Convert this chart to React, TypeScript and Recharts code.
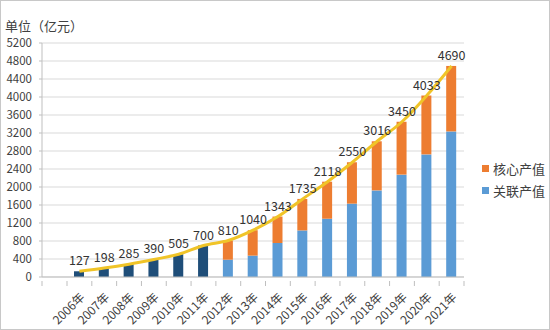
import React from 'react';
import { ComposedChart, Bar, Line, XAxis, YAxis, CartesianGrid, Legend, LabelList } from 'recharts';

const years = ['2006年','2007年','2008年','2009年','2010年','2011年','2012年','2013年','2014年','2015年','2016年','2017年','2018年','2019年','2020年','2021年'];
const totals = [127,198,285,390,505,700,810,1040,1343,1735,2118,2550,3016,3450,4033,4690];
const earlyTotals = [127,198,285,390,505,700,null,null,null,null,null,null,null,null,null,null];
const relatedValues = [null,null,null,null,null,null,385,475,755,1035,1295,1630,1925,2275,2725,3235];
const coreValues = [null,null,null,null,null,null,425,565,588,700,823,920,1091,1175,1308,1455];
const yTicks = [0,400,800,1200,1600,2000,2400,2800,3200,3600,4000,4400,4800,5200];

const data = years.map((y, i) => ({
  year: y,
  total: totals[i],
  early: earlyTotals[i],
  related: relatedValues[i],
  core: coreValues[i],
}));

const FONT = '"Microsoft YaHei", "Noto Sans CJK SC", "Noto Sans", sans-serif';

const XTick = (props: any) => {
  const { x, y, payload, index } = props;
  const off = payload.offset || 12.4;
  const lx = x + 6;
  const ly = y + 13;
  return (
    <g>
      <line x1={x - off} y1={y - 4} x2={x - off} y2={y + 1} stroke="#BFBFBF" />
      {index === 0 && <line x1={x - off - 25} y1={y - 4} x2={x - off - 25} y2={y + 1} stroke="#BFBFBF" />}
      {index === years.length - 1 && <line x1={x + off} y1={y - 4} x2={x + off} y2={y + 1} stroke="#BFBFBF" />}
      <text x={lx} y={ly} textAnchor="end" fontSize={12} fill="#404040" fontFamily={FONT} transform={`rotate(-45, ${lx}, ${ly})`}>
        {payload.value}
      </text>
    </g>
  );
};

const legendItems = [
  { label: '核心产值', color: '#ED7D31' },
  { label: '关联产值', color: '#5B9BD5' },
];

const LegendContent = () => (
  <div style={{ fontFamily: FONT, fontSize: 13, color: '#404040' }}>
    {legendItems.map((it) => (
      <div key={it.label} style={{ display: 'flex', alignItems: 'center', height: 22 }}>
        <span style={{ display: 'inline-block', width: 7, height: 7, background: it.color, marginRight: 4 }} />
        <span>{it.label}</span>
      </div>
    ))}
  </div>
);

export default function App() {
  return (
    <div style={{ position: 'absolute', left: 0, top: 0, width: 550, height: 330, background: '#fff' }}>
      <div style={{ position: 'absolute', left: 0, top: 0, width: 550, height: 330, border: '1px solid #C8C8C8', boxSizing: 'border-box', pointerEvents: 'none' }} />
      <div style={{ position: 'absolute', left: 5, top: 19, fontFamily: FONT, fontSize: 13, lineHeight: '13px', color: '#404040' }}>单位（亿元）</div>
      <ComposedChart width={550} height={330} data={data} margin={{ top: 43, right: 86, bottom: 0, left: 0 }}>
        <CartesianGrid vertical={false} stroke="#D9D9D9" />
        <XAxis
          dataKey="year"
          height={53}
          padding={{ left: 25, right: 0 }}
          axisLine={{ stroke: '#BFBFBF' }}
          tickLine={false}
          interval={0}
          tick={<XTick />}
        />
        <YAxis
          width={42}
          domain={[0, 5200]}
          ticks={yTicks}
          interval={0}
          axisLine={{ stroke: '#BFBFBF' }}
          tickLine={{ stroke: '#BFBFBF' }}
          tickSize={3}
          tickMargin={7}
          tick={{ fontSize: 11.5, fill: '#404040', fontFamily: FONT }}
        />
        <Bar dataKey="early" stackId="a" fill="#1F4E79" barSize={10} isAnimationActive={false} />
        <Bar dataKey="related" stackId="a" fill="#5B9BD5" barSize={10} isAnimationActive={false} />
        <Bar dataKey="core" stackId="a" fill="#ED7D31" barSize={10} isAnimationActive={false} />
        <Line type="monotone" dataKey="total" stroke="#F0C428" strokeWidth={3} dot={false} isAnimationActive={false}>
          <LabelList dataKey="total" position="top" offset={6} style={{ fontSize: 12.5, fill: '#333', fontFamily: FONT }} />
        </Line>
        <Legend layout="vertical" align="center" verticalAlign="middle" content={<LegendContent />} wrapperStyle={{ left: 482, top: 157, width: 68, height: 50 }} />
      </ComposedChart>
    </div>
  );
}
